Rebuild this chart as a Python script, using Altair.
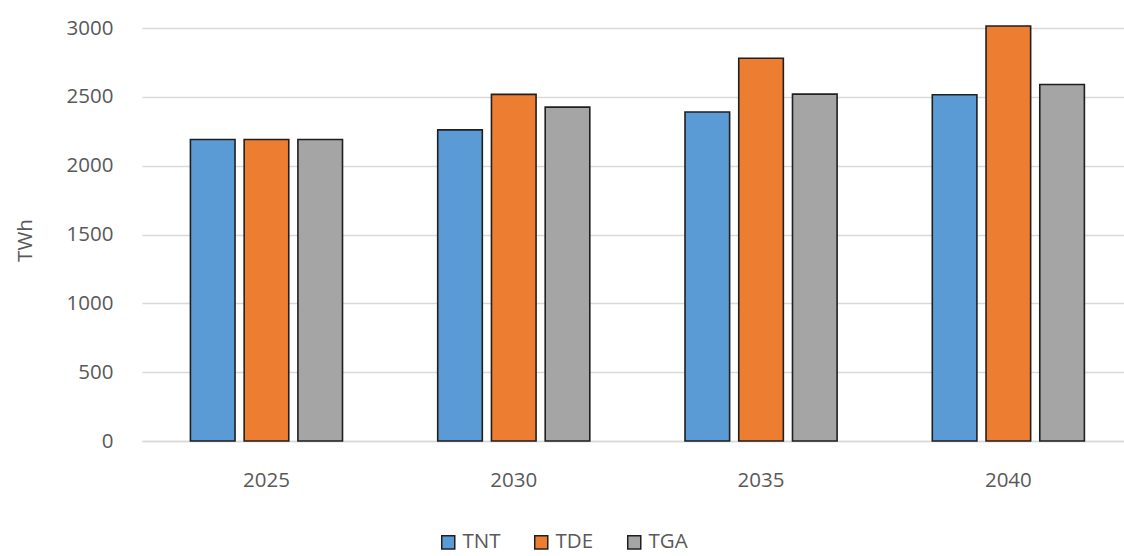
import altair as alt
import pandas as pd

years = ["2025", "2030", "2035", "2040"]
series = ["TNT", "TDE", "TGA"]
tnt = [2190, 2260, 2390, 2515]
tde = [2190, 2518, 2780, 3015]
tga = [2190, 2425, 2520, 2590]
colors = ["#5B9BD5", "#ED7D31", "#A5A5A5"]

rows = []
for name, vals in zip(series, [tnt, tde, tga]):
    for y, v in zip(years, vals):
        rows.append({"year": y, "scenario": name, "value": v})
df = pd.DataFrame(rows)

FONT = "Open Sans"
GREY = "#595959"
FS = 20.5

chart = alt.Chart(df).mark_bar(stroke="#1f1f1f", strokeWidth=1.6).encode(
    x=alt.X("year:N", sort=years,
            scale=alt.Scale(paddingInner=0.385, paddingOuter=0.178, align=0.55),
            axis=alt.Axis(title=None, labelAngle=0, ticks=False, domain=True,
                          domainColor="#d9d9d9", domainWidth=1.5,
                          labelPadding=29, labelFontSize=FS, labelColor=GREY,
                          labelFont=FONT)),
    xOffset=alt.XOffset("scenario:N", sort=series,
                        scale=alt.Scale(paddingInner=0.17, paddingOuter=0)),
    y=alt.Y("value:Q",
            scale=alt.Scale(domain=[0, 3000], nice=False),
            axis=alt.Axis(title="TWh", values=[0, 500, 1000, 1500, 2000, 2500, 3000],
                          format="d",
                          ticks=False, domain=False, grid=True, gridColor="#d9d9d9",
                          gridWidth=1.5, labelPadding=29, labelFontSize=FS,
                          labelColor=GREY, labelFont=FONT,
                          titleFont=FONT, titleFontSize=FS, titleColor=GREY,
                          titleFontWeight="normal", titleX=-117, titleY=212,
                          titleAngle=-90, titleAlign="center", titleBaseline="middle")),
    color=alt.Color("scenario:N", sort=series,
                    scale=alt.Scale(domain=series, range=colors),
                    legend=alt.Legend(title=None, orient="none", direction="horizontal",
                                      legendX=296, legendY=504,
                                      symbolType="square", symbolSize=170,
                                      symbolStrokeColor="#1f1f1f", symbolStrokeWidth=1.5,
                                      labelFontSize=FS, labelColor=GREY, labelFont=FONT,
                                      columnPadding=30, labelOffset=4)),
).properties(
    width=982, height=413,
    padding={"left": 142, "top": 28, "right": 0, "bottom": 115},
    autosize=alt.AutoSizeParams(type="none"),
).configure_view(stroke=None)

chart.save("out.html", embed_options={"renderer": "svg", "actions": False})
